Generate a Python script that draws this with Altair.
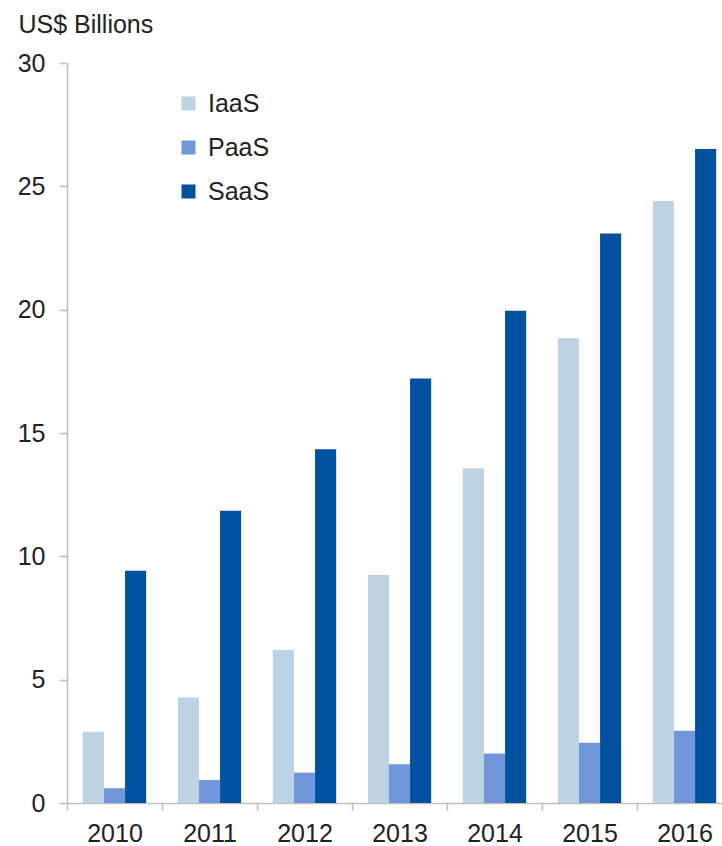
import altair as alt
import pandas as pd

# Cloud services market size by segment, US$ billions
years = ["2010", "2011", "2012", "2013", "2014", "2015", "2016"]
segments = ["IaaS", "PaaS", "SaaS"]
iaas = [2.89, 4.28, 6.2, 9.24, 13.57, 18.84, 24.41]
paas = [0.6, 0.93, 1.23, 1.57, 2.01, 2.44, 2.93]
saas = [9.42, 11.85, 14.34, 17.21, 19.96, 23.09, 26.51]
colors = ["#BDD2E2", "#7097DA", "#00519F"]

rows = []
for seg, vals in zip(segments, [iaas, paas, saas]):
    for yr, v in zip(years, vals):
        rows.append({"Year": yr, "Segment": seg, "Value": v})
df = pd.DataFrame(rows)

FONT = "Liberation Sans"
FS = 25
TEXT = "#222222"
AXIS = "#BFBFBF"

chart = (
    alt.Chart(df)
    .mark_bar()
    .encode(
        x=alt.X(
            "Year:N",
            sort=years,
            scale=alt.Scale(paddingInner=0, paddingOuter=0, range=[0, 665]),
            axis=alt.Axis(
                title=None,
                labelAngle=0,
                labelFontSize=FS,
                labelFont=FONT,
                labelColor=TEXT,
                labelPadding=11,
                tickBand="extent",
                tickSize=7,
                tickColor=AXIS,
                tickWidth=1.5,
                domainColor=AXIS,
                domainWidth=1.5,
                grid=False,
            ),
        ),
        xOffset=alt.XOffset(
            "Segment:N",
            sort=segments,
            scale=alt.Scale(paddingInner=0, paddingOuter=0.75),
        ),
        y=alt.Y(
            "Value:Q",
            scale=alt.Scale(domain=[0, 30], nice=False),
            axis=alt.Axis(
                title="US$ Billions",
                titleAngle=0,
                titleAlign="left",
                titleBaseline="alphabetic",
                titleX=-49,
                titleY=-31,
                titleFontSize=FS,
                titleFontWeight="normal",
                titleFont=FONT,
                titleColor=TEXT,
                values=[0, 5, 10, 15, 20, 25, 30],
                labelFontSize=FS,
                labelFont=FONT,
                labelColor=TEXT,
                labelPadding=14,
                tickSize=8,
                tickColor=AXIS,
                tickWidth=1.5,
                domainColor=AXIS,
                domainWidth=1.5,
                grid=False,
            ),
        ),
        color=alt.Color(
            "Segment:N",
            sort=segments,
            scale=alt.Scale(domain=segments, range=colors),
            legend=alt.Legend(
                title=None,
                orient="none",
                legendX=109,
                legendY=28,
                padding=0,
                symbolType="square",
                symbolSize=196,
                symbolStrokeWidth=0,
                labelFontSize=FS,
                labelFont=FONT,
                labelColor=TEXT,
                labelOffset=7,
                rowPadding=18,
            ),
        ),
    )
    .properties(
        width=655,
        height=740,
        autosize=alt.AutoSizeParams(type="none"),
        padding={"left": 67, "top": 63, "right": 0, "bottom": 43},
    )
    .configure_view(stroke=None)
)

chart.save("out.html", embed_options={"renderer": "svg", "actions": False})
